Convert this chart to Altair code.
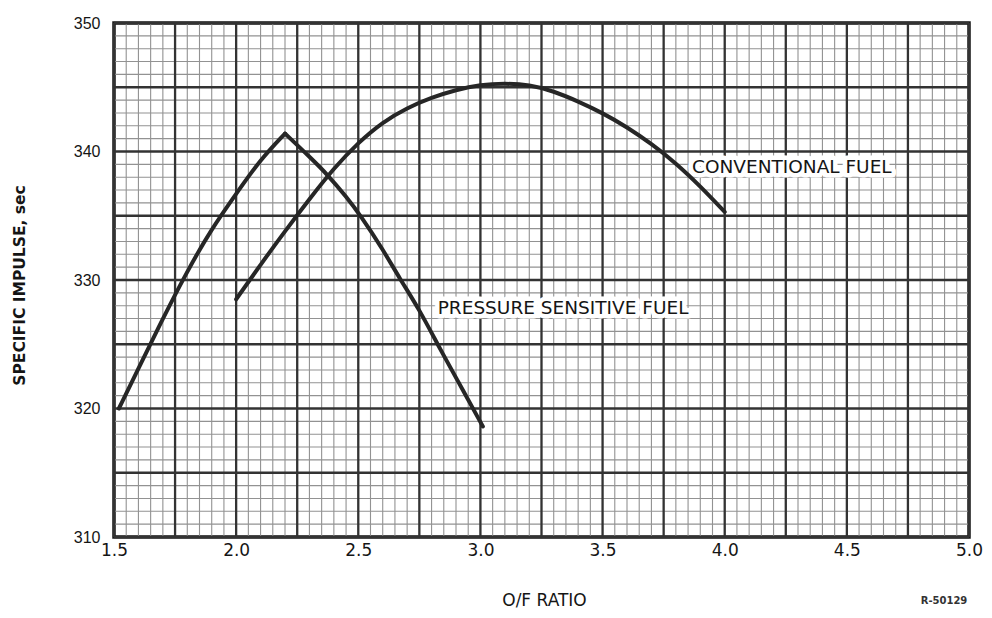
import altair as alt
import numpy as np
import pandas as pd

# --- data ---
ps_left_x = [1.52, 1.6, 1.7, 1.8, 1.9, 2.0, 2.1, 2.2]
ps_left_y = [320.0, 323.1, 327.0, 330.7, 334.0, 336.7, 339.4, 341.4]
ps_right_x = [2.2, 2.3, 2.374, 2.45, 2.51, 2.6, 2.67, 2.75, 2.83, 2.9, 3.01]
ps_right_y = [341.4, 339.6, 338.2, 336.5, 335.0, 332.4, 330.1, 327.7, 324.8, 322.4, 318.6]

cv_x = [2.0, 2.1, 2.2, 2.3, 2.4, 2.5, 2.6, 2.7, 2.8, 2.9, 3.0, 3.1, 3.2, 3.3, 3.4, 3.5, 3.6, 3.7, 3.8, 3.9, 4.0]
cv_y = [328.5, 331.2, 333.8, 336.3, 338.7, 340.7, 342.3, 343.4, 344.2, 344.8, 345.2, 345.3, 345.2, 344.7, 343.9, 343.0, 341.9, 340.6, 339.1, 337.3, 335.3]

x_ticks = [1.5, 2.0, 2.5, 3.0, 3.5, 4.0, 4.5, 5.0]
y_ticks = [310, 320, 330, 340, 350]

label_text = ["CONVENTIONAL FUEL", "PRESSURE SENSITIVE FUEL"]
label_x = [3.866, 2.825]
label_y = [338.8, 327.8]

# graph-paper grid values
x_minor = [round(v, 2) for v in np.arange(1.5, 5.0001, 0.05)]
x_major = [round(v, 2) for v in np.arange(1.5, 5.0001, 0.25)]
y_minor = [float(v) for v in range(310, 351, 1)]
y_major = [float(v) for v in range(310, 351, 5)]

W, H = 855, 514
xs = alt.Scale(domain=[1.5, 5.0], nice=False, zero=False)
ys = alt.Scale(domain=[310, 350], nice=False, zero=False)

x_axis = alt.Axis(
    values=x_ticks, format=".1f", title="O/F RATIO", grid=False, ticks=False, domain=False,
    labelFont="DejaVu Sans", labelFontSize=17, labelColor="#151515", labelPadding=5,
    titleFont="DejaVu Sans", titleFontSize=17, titleFontWeight="normal", titleColor="#151515",
    titleX=430, titleY=63, titleBaseline="middle", labelFlush=False)
y_axis = alt.Axis(
    values=y_ticks, format="d", title="SPECIFIC IMPULSE, sec", grid=False, ticks=False, domain=False,
    labelFont="Liberation Sans", labelFontSize=16, labelColor="#151515", labelPadding=14,
    titleFont="DejaVu Sans", titleFontSize=15.5, titleFontWeight="bold", titleColor="#151515",
    titleX=-95, titleY=262, titleAngle=-90, titleAlign="center", titleBaseline="middle", labelFlush=False)

curves = pd.concat([
    pd.DataFrame({"x": ps_left_x, "y": ps_left_y, "series": "ps_left", "order": range(len(ps_left_x))}),
    pd.DataFrame({"x": ps_right_x, "y": ps_right_y, "series": "ps_right", "order": range(len(ps_right_x))}),
    pd.DataFrame({"x": cv_x, "y": cv_y, "series": "conventional", "order": range(len(cv_x))}),
])
labels = pd.DataFrame({"text": label_text, "x": label_x, "y": label_y})

xminor = alt.Chart(pd.DataFrame({"v": x_minor})).mark_rule(color="#929292", strokeWidth=1.1).encode(
    x=alt.X("v:Q", scale=xs, axis=x_axis))
yminor = alt.Chart(pd.DataFrame({"v": y_minor})).mark_rule(color="#929292", strokeWidth=1.1).encode(
    y=alt.Y("v:Q", scale=ys, axis=y_axis))
xmajor = alt.Chart(pd.DataFrame({"v": x_major})).mark_rule(color="#333333", strokeWidth=2.3).encode(
    x=alt.X("v:Q", scale=xs, axis=x_axis))
ymajor = alt.Chart(pd.DataFrame({"v": y_major})).mark_rule(color="#333333", strokeWidth=2.3).encode(
    y=alt.Y("v:Q", scale=ys, axis=y_axis))

lines = alt.Chart(curves).mark_line(color="#262626", strokeWidth=4, strokeCap="round", strokeJoin="round",
                                    interpolate="basis").encode(
    x=alt.X("x:Q", scale=xs, axis=x_axis),
    y=alt.Y("y:Q", scale=ys, axis=y_axis),
    detail="series:N",
    order="order:Q",
)

halo = alt.Chart(labels).mark_text(align="left", baseline="middle", font="DejaVu Sans", fontSize=18.5,
                                    color="white", stroke="white", strokeWidth=9, strokeJoin="round").encode(
    x=alt.X("x:Q", scale=xs, axis=x_axis), y=alt.Y("y:Q", scale=ys, axis=y_axis), text="text:N")

texts = alt.Chart(labels).mark_text(align="left", baseline="middle", font="DejaVu Sans", fontSize=18.5,
                                     color="#151515").encode(
    x=alt.X("x:Q", scale=xs, axis=x_axis), y=alt.Y("y:Q", scale=ys, axis=y_axis), text="text:N")

ref = alt.Chart(pd.DataFrame({"t": ["R-50129"]})).mark_text(
    font="DejaVu Sans", fontSize=10, fontWeight="bold", color="#333", align="center", baseline="middle").encode(
    x=alt.value(830), y=alt.value(578), text="t:N")

chart = alt.layer(xminor, yminor, xmajor, ymajor, lines, halo, texts, ref).properties(
    width=W, height=H,
    autosize=alt.AutoSizeParams(type="none"),
    padding={"left": 106, "top": 15, "right": 14, "bottom": 76},
    background="white",
).configure_view(stroke="#1a1a1a", strokeWidth=3.5)

chart.save("out.html", embed_options={"renderer": "svg", "actions": False})
